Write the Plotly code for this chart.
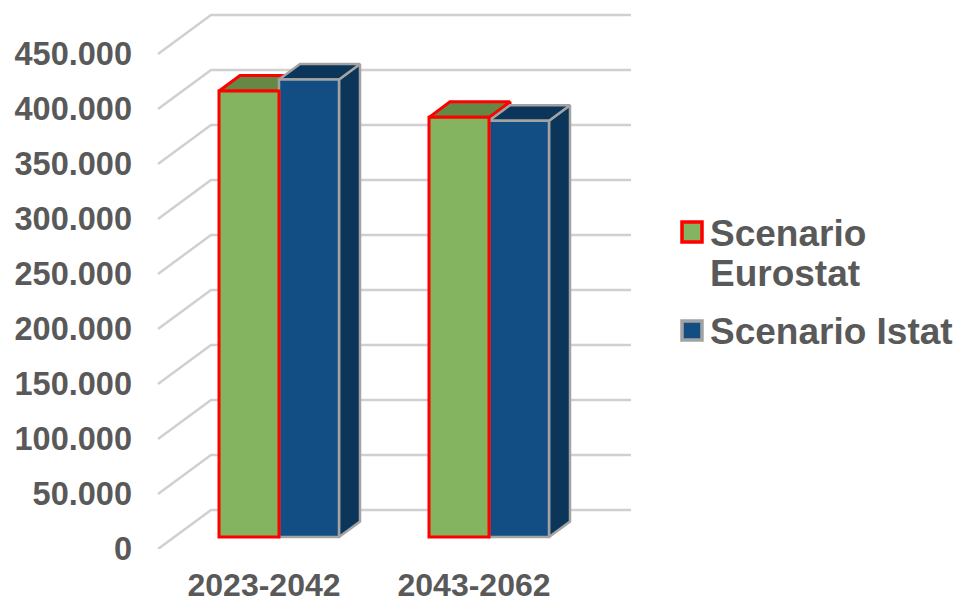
import plotly.graph_objects as go

# Data
periods = ["2023-2042", "2043-2062"]
eurostat = [405500, 381500]
istat = [416000, 378500]
y_ticks = [0, 50000, 100000, 150000, 200000, 250000, 300000, 350000, 400000, 450000]
y_labels = ["0", "50.000", "100.000", "150.000", "200.000", "250.000",
            "300.000", "350.000", "400.000", "450.000"]

# Canvas and plot box, in pixels
W, H = 959, 599
LEFT, RIGHT, TOP, BOTTOM = 133, 640, 5, 549
PX_PER_UNIT_Y = 55 / 50000      # pixels per person on the value axis
PX_PER_CAT = 210                # pixels between the two period groups
FRONT_X0 = 264                  # pixel centre of the first period label
BAR_SHIFT = (15, 12)            # bars stand a little way back from the front edge
WALL_SHIFT = (53, 39)           # depth of the floor up to the back wall
BAR_DEPTH = (21, 15.5)          # depth of each bar
BAR_W = 60 / PX_PER_CAT
WALL_RIGHT = 631

GREEN, GREEN_DARK, RED = "#85B461", "#658945", "#FF0000"
BLUE, BLUE_DARK, GREY = "#124E83", "#0B3559", "#A3A3A3"
GRID, TEXT = "#D0D0D0", "#595959"
FONT = "Liberation Sans"

xr = [(LEFT - FRONT_X0) / PX_PER_CAT, (RIGHT - FRONT_X0) / PX_PER_CAT]
yr = [0, (BOTTOM - TOP) / PX_PER_UNIT_Y]
dx_px = lambda p: p / PX_PER_CAT
dy_px = lambda p: p / PX_PER_UNIT_Y
xr_bar = [xr[0] - dx_px(BAR_SHIFT[0]), xr[1] - dx_px(BAR_SHIFT[0])]
yr_bar = [yr[0] - dy_px(BAR_SHIFT[1]), yr[1] - dy_px(BAR_SHIFT[1])]

fig = go.Figure()

# Back wall gridlines with their diagonal run across the floor
x_front = xr[0] + dx_px(158 - LEFT)
x_back = x_front + dx_px(WALL_SHIFT[0])
x_end = xr[0] + dx_px(WALL_RIGHT - LEFT)
for v in y_ticks:
    top = v + dy_px(WALL_SHIFT[1])
    fig.add_trace(go.Scatter(
        x=[x_front, x_back, x_end], y=[v, top, top], mode="lines",
        line=dict(color=GRID, width=2.5), hoverinfo="skip", showlegend=False,
        xaxis="x", yaxis="y"))


def depth_faces(center_offset, values, face, edge, edge_w):
    """Top and side faces of one series' bars, drawn behind the front faces."""
    ddx, ddy = dx_px(BAR_DEPTH[0]), dy_px(BAR_DEPTH[1])
    for i, v in enumerate(values):
        x0 = i + center_offset
        x1 = x0 + BAR_W
        side_x = [x1, x1 + ddx, x1 + ddx, x1, x1]
        side_y = [0, ddy, v + ddy, v, 0]
        top_x = [x0, x0 + ddx, x1 + ddx, x1, x0]
        top_y = [v, v + ddy, v + ddy, v, v]
        for xs, ys in ((side_x, side_y), (top_x, top_y)):
            fig.add_trace(go.Scatter(
                x=xs, y=ys, mode="lines", fill="toself", fillcolor=face,
                line=dict(color=edge, width=edge_w), hoverinfo="skip",
                showlegend=False, xaxis="x2", yaxis="y2"))


depth_faces(-BAR_W, eurostat, GREEN_DARK, RED, 3)
depth_faces(0, istat, BLUE_DARK, GREY, 2.5)

# Front faces: the Istat bars go first so the red outline stays on top
fig.add_trace(go.Bar(
    x=[0, 1], y=istat, width=BAR_W, offset=0, name="Scenario Istat",
    marker=dict(color=BLUE, line=dict(color=GREY, width=2.5)),
    xaxis="x3", yaxis="y3", showlegend=False))
fig.add_trace(go.Bar(
    x=[0, 1], y=eurostat, width=BAR_W, offset=-BAR_W, name="Scenario Eurostat",
    marker=dict(color=GREEN, line=dict(color=RED, width=3)),
    xaxis="x3", yaxis="y3", showlegend=False))

domain_x = [LEFT / W, RIGHT / W]
domain_y = [1 - BOTTOM / H, 1 - TOP / H]
hidden = dict(visible=False, showgrid=False, zeroline=False, automargin=False)

# Hand-built legend, so the swatches and line spacing can be sized freely
shapes = [
    dict(type="rect", xref="paper", yref="paper", x0=682 / W, x1=702 / W,
         y0=1 - 242 / H, y1=1 - 222 / H, fillcolor=GREEN,
         line=dict(color=RED, width=3.5)),
    dict(type="rect", xref="paper", yref="paper", x0=682 / W, x1=702 / W,
         y0=1 - 340 / H, y1=1 - 321 / H, fillcolor=BLUE,
         line=dict(color=GREY, width=3.5)),
]
legend_font = dict(family=FONT, size=37, color=TEXT, weight=700)
legend_lines = [("Scenario", 233), ("Eurostat", 274), ("Scenario Istat", 331)]
annotations = [
    dict(text=t, xref="paper", yref="paper", x=708 / W, y=1 - py / H,
         xanchor="left", yanchor="middle", showarrow=False, font=legend_font)
    for t, py in legend_lines
]

fig.update_layout(
    width=W, height=H, margin=dict(l=0, r=0, t=0, b=0, pad=0, autoexpand=False),
    paper_bgcolor="white", plot_bgcolor="rgba(0,0,0,0)",
    showlegend=False, barmode="overlay",
    shapes=shapes, annotations=annotations,
    font=dict(family=FONT, color=TEXT),
    xaxis=dict(domain=domain_x, range=xr, tickmode="array", tickvals=[0, 1],
               ticktext=periods, showgrid=False, zeroline=False, showline=False,
               ticks="", ticklabelstandoff=14, automargin=False,
               tickfont=dict(family=FONT, size=32, color=TEXT, weight=700)),
    yaxis=dict(domain=domain_y, range=yr, tickmode="array", tickvals=y_ticks,
               ticktext=y_labels, showgrid=False, zeroline=False, showline=False,
               ticks="", automargin=False,
               tickfont=dict(family=FONT, size=32.5, color=TEXT, weight=700)),
    xaxis2=dict(domain=domain_x, range=xr_bar, overlaying="x", anchor="y2", **hidden),
    yaxis2=dict(domain=domain_y, range=yr_bar, overlaying="y", anchor="x2", **hidden),
    xaxis3=dict(domain=domain_x, range=xr_bar, overlaying="x", anchor="y3", **hidden),
    yaxis3=dict(domain=domain_y, range=yr_bar, overlaying="y", anchor="x3", **hidden),
)

fig.write_html("out.html", config=dict(displayModeBar=False))
